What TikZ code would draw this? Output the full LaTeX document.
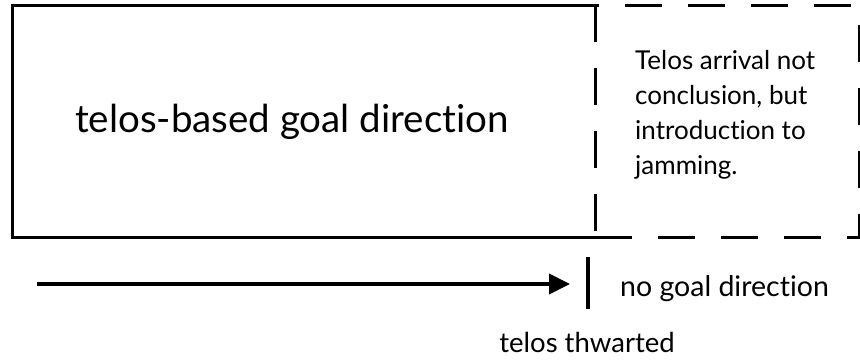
\documentclass[tikz,border=0pt]{standalone}
\usepackage{fontspec}
\setmainfont{Lato}[Ligatures=NoCommon]
\usetikzlibrary{arrows.meta}
\begin{document}
\begin{tikzpicture}[x=1pt,y=-1pt,
  frame/.style={line width=3pt},
  dashframe/.style={line width=3pt,dash pattern=on 37pt off 26pt},
  lbl/.style={inner sep=0pt}]
\useasboundingbox (0,0) rectangle (860,362);
\coordinate (tl) at (12,5);
\coordinate (bl) at (12,237);
\coordinate (tm) at (595,5);
\coordinate (bm) at (595,237);
\coordinate (tr) at (859.5,5);
\coordinate (br) at (859.5,237);
\draw[frame] (tm) -- (tl) -- (bl) -- (bm);
\draw[dashframe] (tm) -- (bm);
\draw[dashframe,dash phase=33pt] (tm) -- (tr);
\draw[dashframe] (bm) -- (br);
\draw[dashframe,dash phase=43pt] (tr) -- (br);
\node[lbl,anchor=base,font=\fontsize{38.5}{46}\selectfont] (main) at (292,132) {telos-based goal direction};
\node[lbl,anchor=north west,align=left,font=\fontsize{26}{35}\selectfont] (note) at (635,50) {Telos arrival not\\conclusion, but\\introduction to\\jamming.};
\coordinate (as) at (37,284);
\coordinate (ae) at (570,284);
\coordinate (tt) at (588,257);
\coordinate (tb) at (588,309);
\draw[line width=4pt] (tt) -- (tb);
\draw[line width=4pt,-{Triangle[length=21pt,width=20pt]}] (as) -- (ae);
\node[lbl,anchor=base west,font=\fontsize{28.5}{34}\selectfont] (nogoal) at (620,296) {no goal direction};
\node[lbl,anchor=base,font=\fontsize{27.5}{34}\selectfont] (thw) at (587,352) {telos thwarted};
\end{tikzpicture}
\end{document}
